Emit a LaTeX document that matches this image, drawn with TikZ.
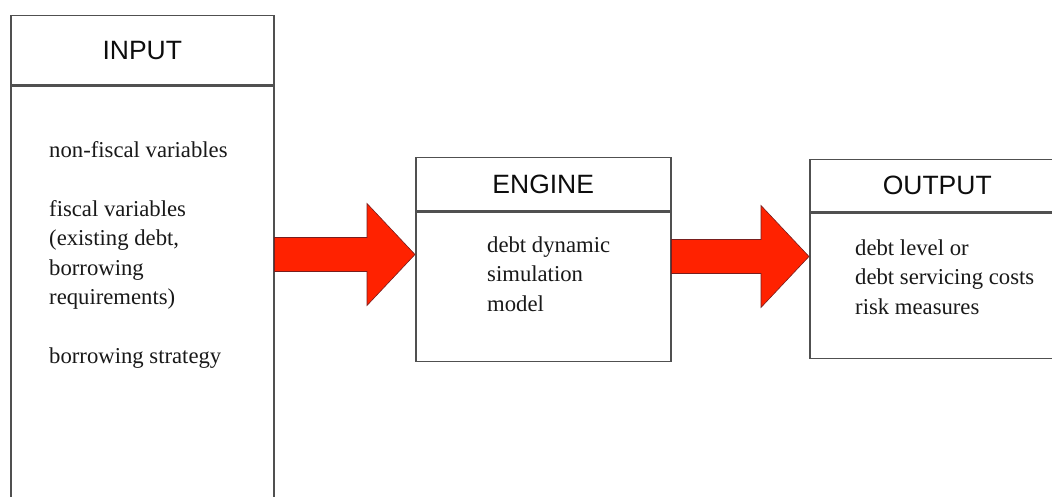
\documentclass[tikz,border=0pt]{standalone}
\usepackage{fontspec}
\setmainfont{Liberation Serif}
\newfontfamily\titlefont{Liberation Sans}
\usetikzlibrary{calc}

\definecolor{boxLine}{RGB}{80, 80, 80}
\definecolor{arrowRed}{RGB}{255, 34, 0}
\definecolor{arrowEdge}{RGB}{120, 30, 30}

\tikzset{
    headbox/.style={draw=boxLine, line width=1.5pt, rectangle, inner sep=0pt,
        font=\titlefont\fontsize{26.5}{30}\selectfont, text=black!95},
    bodybox/.style={draw=boxLine, line width=1.5pt, rectangle, inner sep=0pt},
    % anchor is the baseline of the last line
    bodytext/.style={align=left, inner sep=0pt, anchor=base west,
        font=\fontsize{22.7}{29.3}\selectfont, text=black!90},
    fatarrow/.style={fill=arrowRed, draw=arrowEdge, line width=0.6pt, line join=miter}
}

% fat red arrow: #1 = where the shaft starts (x), #2 = tip
\newcommand{\fatarrow}[2]{%
    \filldraw[fatarrow] let \p1=(#1), \p2=(#2) in
        (\x1,\y2+17pt) -- (\x2-48pt,\y2+17pt) -- (\x2-48pt,\y2+51pt) -- (\x2,\y2)
        -- (\x2-48pt,\y2-51pt) -- (\x2-48pt,\y2-17pt) -- (\x1,\y2-17pt) -- cycle;
}

\begin{document}
\begin{tikzpicture}[x=1pt, y=-1pt]
    \useasboundingbox (0,0) rectangle (1052,497);
    \fill[white] (0,0) rectangle (1052,497);
    \clip (0,0) rectangle (1052,497);

    % Input
    \node[headbox, minimum width=263pt, minimum height=69pt, anchor=north west] (inhead) at (10,15) {INPUT};
    \node[bodybox, minimum width=263pt, minimum height=440pt, anchor=north] (inbody) at (inhead.south) {};
    \node[bodytext] (intext) at (49,363) {non-fiscal variables\\[29.3pt]
        fiscal variables\\(existing debt,\\borrowing\\requirements)\\[29.3pt]
        borrowing strategy};

    % Engine
    \node[headbox, minimum width=255pt, minimum height=53pt, anchor=north west] (enhead) at (415,157) {ENGINE};
    \node[bodybox, minimum width=255pt, minimum height=149pt, anchor=north] (enbody) at (enhead.south) {};
    \node[bodytext] (entext) at (487,311) {debt dynamic\\simulation\\model};

    % Output
    \node[headbox, minimum width=255pt, minimum height=52pt, anchor=north west] (outhead) at (809,159) {OUTPUT};
    \node[bodybox, minimum width=255pt, minimum height=145pt, anchor=north] (outbody) at (outhead.south) {};
    \node[bodytext] (outtext) at (855,314) {debt level or\\debt servicing costs\\risk measures};

    % Pfeile
    \coordinate (tipA) at ([yshift=-43pt]enhead.south west);
    \coordinate (tipB) at ([yshift=-44pt]outhead.south west);
    \fatarrow{inbody.east}{tipA}
    \fatarrow{enbody.east}{tipB}
\end{tikzpicture}
\end{document}
